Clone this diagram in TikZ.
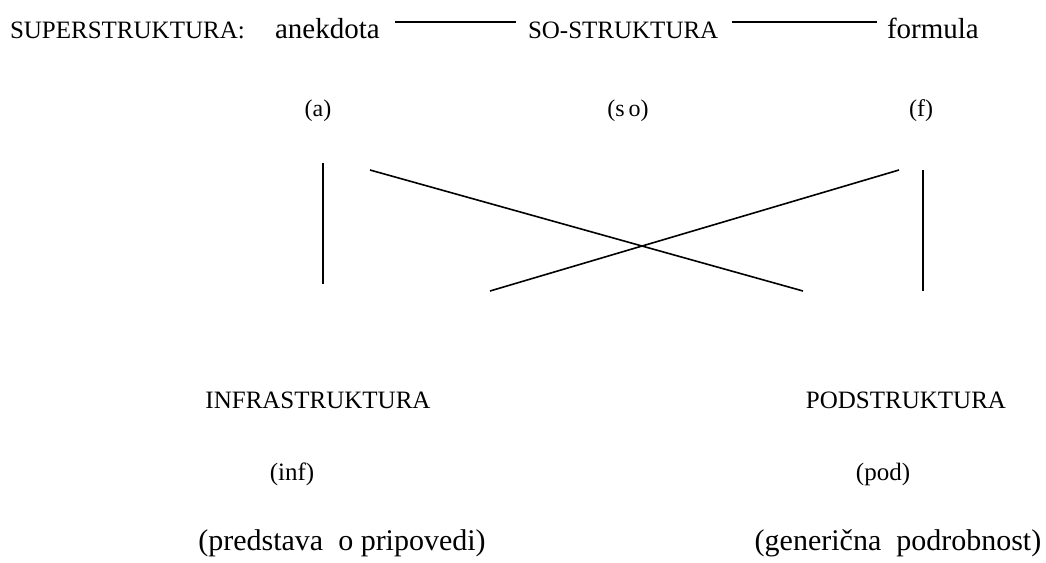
\documentclass[tikz,border=0pt]{standalone}
\usepackage{fontspec}
\setmainfont{Liberation Serif}
\newcommand{\fsz}[1]{\fontsize{#1}{#1}\selectfont}
\begin{document}
\begin{tikzpicture}[x=1pt,y=-1pt,
  lbl/.style={inner sep=0pt,outer sep=0pt,anchor=base west},
  mid/.style={inner sep=0pt,outer sep=0pt,anchor=base},
  link/.style={line width=1.6pt,line cap=butt}]
\useasboundingbox (0,0) rectangle (1046,562);

% top row
\node[lbl,font=\fsz{25}] (sup) at (10,38) {SUPERSTRUKTURA:};
\node[lbl,font=\fsz{29}] (anek) at (275,38) {anekdota};
\node[lbl,font=\fsz{25}] (so) at (528,38) {SO-STRUKTURA};
\node[lbl,font=\fsz{29}] (form) at (887,38) {formula};

\node[mid,font=\fsz{24}] (a) at (318,116) {(a)};
\node[mid,font=\fsz{24}] (soab) at (628,116) {(s\,o)};
\node[mid,font=\fsz{24}] (f) at (921,116) {(f)};

% bottom row
\node[mid,font=\fsz{25}] (infra) at (318,408) {INFRASTRUKTURA};
\node[mid,font=\fsz{25}] (infab) at (292,480) {(inf)};
\node[mid,font=\fsz{30}] (infdesc) at (342,550) {(predstava\ \ o pripovedi)};

\node[mid,font=\fsz{25}] (pod) at (906,408) {PODSTRUKTURA};
\node[mid,font=\fsz{25}] (podab) at (883,480) {(pod)};
\node[mid,font=\fsz{30}] (poddesc) at (898,550) {(generična\ \ podrobnost)};

% end points of the links
\coordinate (h1a) at (395,22);
\coordinate (h1b) at (516,22);
\coordinate (h2a) at (732,22);
\coordinate (h2b) at (877,22);
\coordinate (vLt) at (323,163);
\coordinate (vLb) at (323,284);
\coordinate (d1a) at (370,170);
\coordinate (d1b) at (803,291);
\coordinate (d2a) at (490,291);
\coordinate (d2b) at (899,170);
\coordinate (vRt) at (923,170);
\coordinate (vRb) at (923,291);

\draw[link] (h1a) -- (h1b);
\draw[link] (h2a) -- (h2b);
\draw[link] (vLt) -- (vLb);
\draw[link] (d1a) -- (d1b);
\draw[link] (d2a) -- (d2b);
\draw[link] (vRt) -- (vRb);
\end{tikzpicture}
\end{document}
